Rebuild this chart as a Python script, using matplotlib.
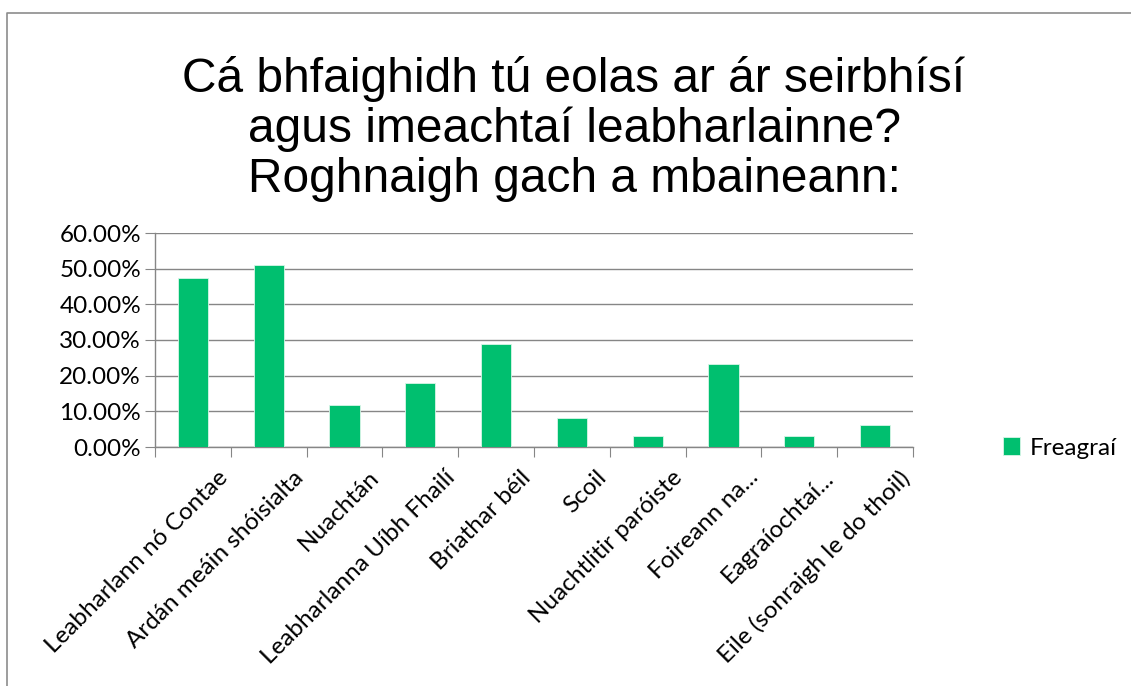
import matplotlib.pyplot as plt
import matplotlib.transforms as mtransforms
import numpy as np
from matplotlib.lines import Line2D

categories = ['Leabharlann nó Contae', 'Ardán meáin shóisialta', 'Nuachtán',
              'Leabharlanna Uíbh Fhailí', 'Briathar béil', 'Scoil',
              'Nuachtlitir paróiste', 'Foireann na...', 'Eagraíochtaí...',
              'Eile (sonraigh le do thoil)']
values = [47.3, 50.9, 11.8, 17.9, 28.9, 8.0, 3.1, 23.3, 3.1, 6.2]
series_name = 'Freagraí'
title = 'Cá bhfaighidh tú eolas ar ár seirbhísí\nagus imeachtaí leabharlainne?\nRoghnaigh gach a mbaineann:'

green = '#00BF6F'
grid_col = '#868686'
W, H = 1131, 686

fig = plt.figure(figsize=(11.31, 6.86), dpi=100)
# chart-area border (only top and left edges are visible in the crop)
fig.lines.append(Line2D([7 / W, 7 / W, 1], [0, 1 - 13 / H, 1 - 13 / H],
                        transform=fig.transFigure, color='#8c8c8c', linewidth=1.2))

ax = fig.add_axes([155 / W, 1 - 447 / H, (913 - 155) / W, (447 - 233) / H])

x = np.arange(len(categories))
ax.bar(x, values, width=0.4, color=green, edgecolor='#d8f5e8', linewidth=0.6,
       label=series_name, zorder=3)

ax.set_xlim(-0.5, len(categories) - 0.5)
ax.set_ylim(0, 60)
ax.set_yticks(np.arange(0, 61, 10))
ax.set_yticklabels([f'{v:.2f}%' for v in np.arange(0, 61, 10)],
                   fontsize=17.5, family='Lato')
ax.yaxis.grid(True, color=grid_col, linewidth=1, zorder=0)

# category ticks on boundaries, labels centred under bars
ax.set_xticks(np.arange(-0.5, len(categories), 1))
ax.set_xticklabels([])
ax.set_xticks(x, minor=True)
ax.set_xticklabels(categories, minor=True, rotation=45, ha='right',
                   rotation_mode='anchor', fontsize=17.5, family='Lato')
ax.tick_params(axis='x', which='minor', length=0, pad=10)
ax.tick_params(axis='x', which='major', length=7, color=grid_col, direction='out')
ax.tick_params(axis='y', length=7, color=grid_col, direction='out', pad=3)

# nudge rotated labels like Excel does
shift = mtransforms.ScaledTranslation(24 / 100, -6 / 100, fig.dpi_scale_trans)
for lab in ax.get_xticklabels(minor=True):
    lab.set_transform(lab.get_transform() + shift)

for s in ['top', 'right']:
    ax.spines[s].set_visible(False)
for s in ['left', 'bottom']:
    ax.spines[s].set_color(grid_col)
    ax.spines[s].set_linewidth(1)

fig.text(574 / W, 1 - 129 / H, title, ha='center', va='center', fontsize=34.5,
         family='Liberation Sans', linespacing=1.13)

ax.legend(loc='center left', bbox_to_anchor=(981 / W, 1 - 448 / H),
          bbox_transform=fig.transFigure, frameon=False,
          prop={'family': 'Lato', 'size': 17.5}, handlelength=0.7, handleheight=0.7,
          handletextpad=0.4)

fig.savefig('out.png', dpi=100)
